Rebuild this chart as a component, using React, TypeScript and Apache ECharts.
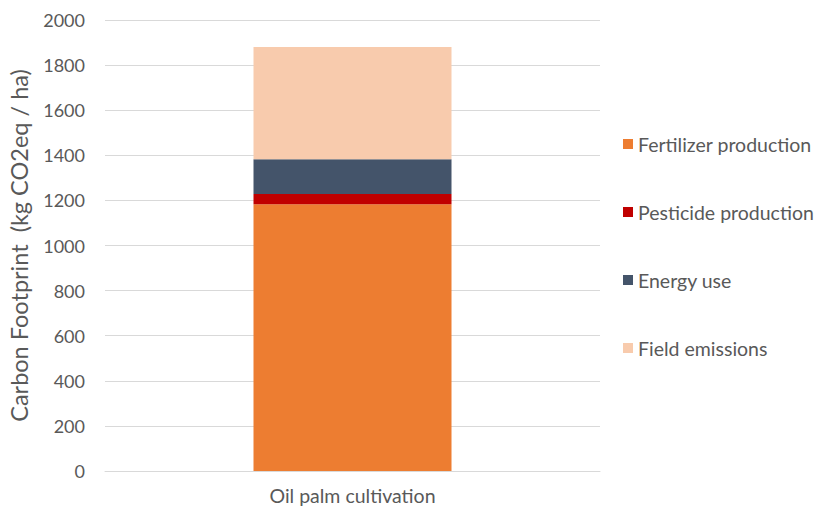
import React, { useEffect, useRef } from "react";
import * as echarts from "echarts";

const categories = ["Oil palm cultivation"];
const seriesNames = ["Fertilizer production", "Pesticide production", "Energy use", "Field emissions"];
const fertilizer = [1183];
const pesticide = [45];
const energy = [155];
const field = [497];
const colors = ["#ED7D31", "#C00000", "#44546A", "#F8CBAD"];
const yTicks = { min: 0, max: 2000, interval: 200 };

const FONT = "Lato, 'Open Sans', sans-serif";

export default function App() {
  const ref = useRef<HTMLDivElement>(null);
  useEffect(() => {
    if (!ref.current) return;
    const chart = echarts.init(ref.current, undefined, { renderer: "svg" });
    const values = [fertilizer, pesticide, energy, field];
    chart.setOption({
      animation: false,
      textStyle: { fontFamily: FONT },
      grid: { left: 105, right: 217, top: 20, bottom: 35, containLabel: false, outerBoundsMode: "none" },
      legend: {
        orient: "vertical",
        left: 618,
        top: 128,
        itemWidth: 10,
        itemHeight: 10,
        itemGap: 46,
        icon: "rect",
        textStyle: { fontSize: 19.5, color: "#595959", fontFamily: FONT, lineHeight: 22, padding: [0, 0, 0, 0] },
        data: seriesNames,
      },
      xAxis: {
        type: "category",
        data: categories,
        axisLine: { lineStyle: { color: "#D9D9D9", width: 1 } },
        axisTick: { show: false },
        axisLabel: { fontSize: 19.5, color: "#595959", margin: 14, fontFamily: FONT },
      },
      yAxis: {
        type: "value",
        min: yTicks.min,
        max: yTicks.max,
        interval: yTicks.interval,
        name: "Carbon Footprint  (kg CO2eq / ha)",
        nameLocation: "middle",
        nameGap: 74,
        nameTextStyle: { fontSize: 23.5, color: "#595959", fontFamily: FONT },
        axisLine: { show: false },
        axisTick: { show: false },
        axisLabel: { fontSize: 18, color: "#595959", margin: 20, fontFamily: FONT, formatter: (v: number) => String(v) },
        splitLine: { lineStyle: { color: "#D9D9D9", width: 1 } },
      },
      series: seriesNames.map((name, i) => ({
        name,
        type: "bar",
        stack: "total",
        barWidth: "40%",
        data: values[i],
        itemStyle: { color: colors[i] },
      })),
    });
    return () => chart.dispose();
  }, []);
  return <div ref={ref} style={{ position: "absolute", left: 0, top: 0, width: 817, height: 506 }} />;
}
